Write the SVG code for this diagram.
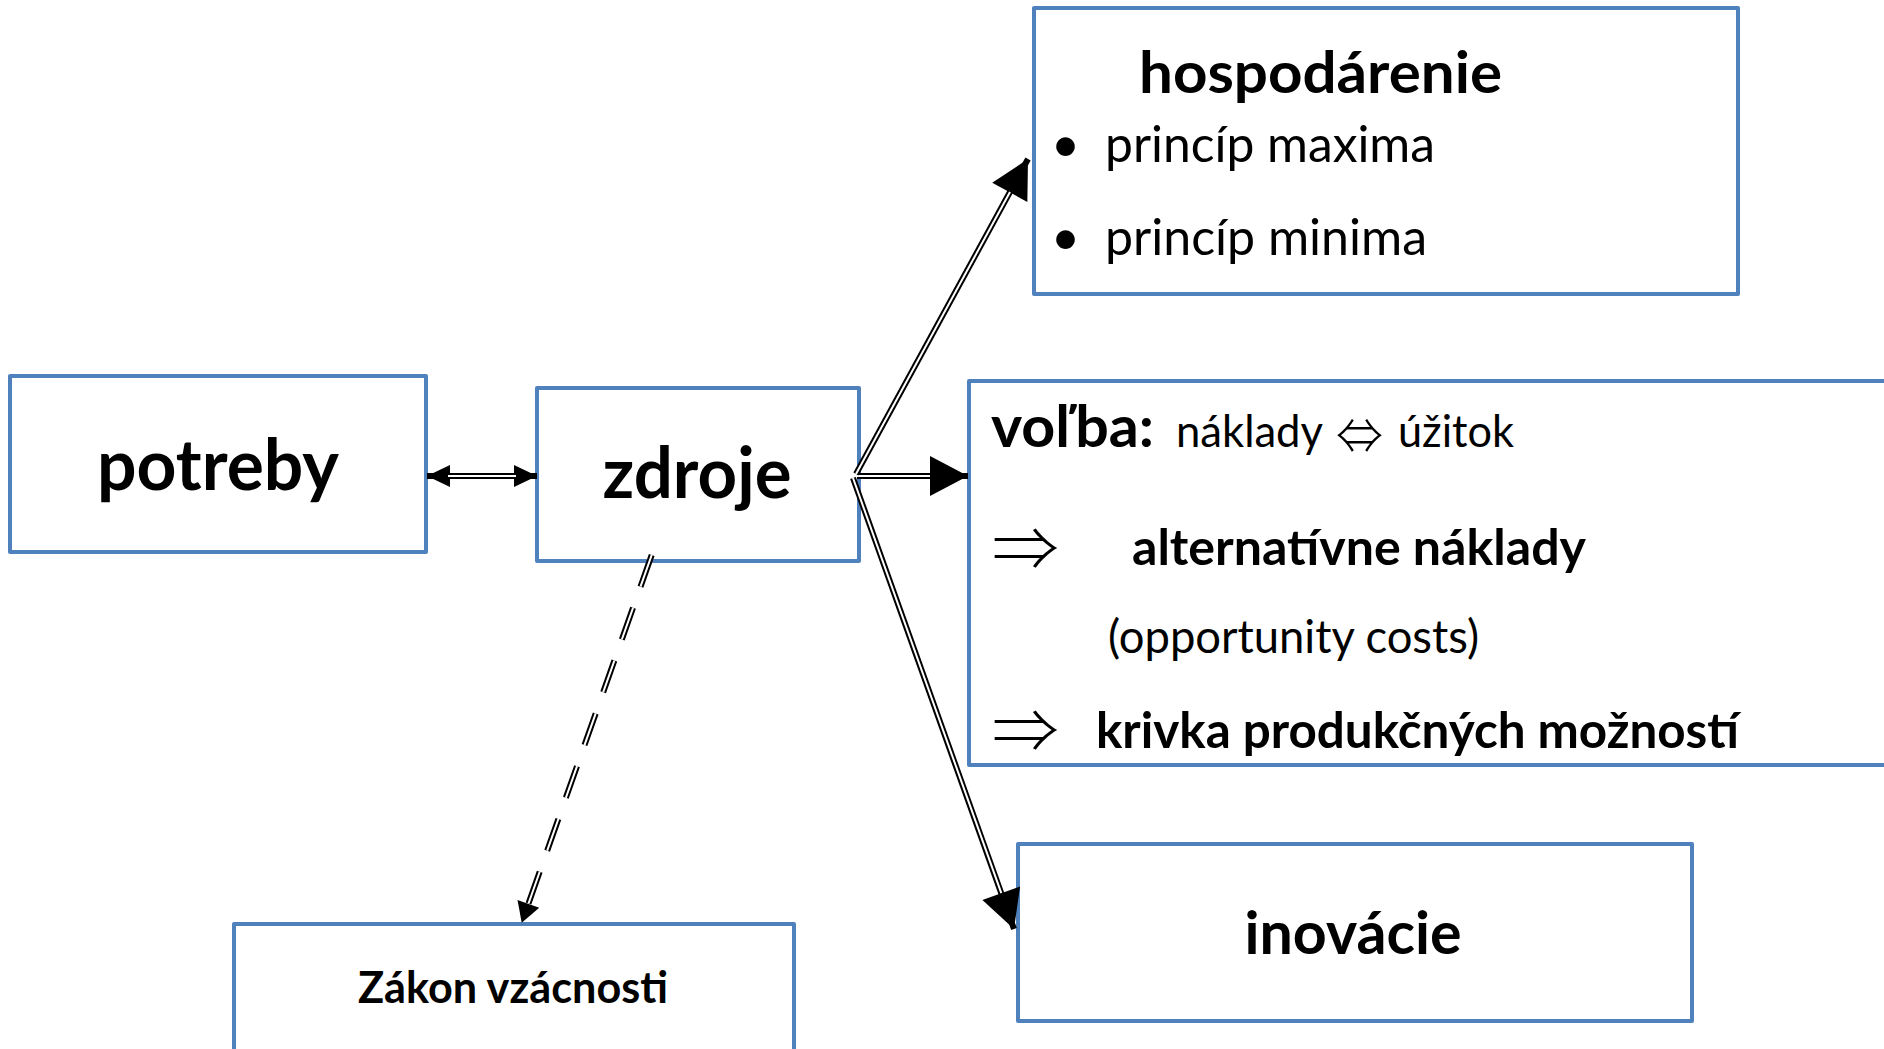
<svg xmlns="http://www.w3.org/2000/svg" width="1884" height="1049" viewBox="0 0 1884 1049">
<style>
.box{fill:#fff;stroke:#4F81BD;stroke-width:4;stroke-linejoin:round}
.t{font-family:Lato,"Open Sans","DejaVu Sans",sans-serif;fill:#000}
.b{font-weight:bold}
.sym{font-family:"Noto Sans CJK JP","DejaVu Sans",sans-serif;font-weight:300;fill:#000}
.out{fill:none;stroke:#000;stroke-width:6}
.in{fill:none;stroke:#fff;stroke-width:2}
.dash{stroke-dasharray:33.6 22.4}
</style>
<defs>
<marker id="headBig" markerUnits="userSpaceOnUse" markerWidth="40" markerHeight="40" refX="38" refY="20" orient="auto" overflow="visible"><path d="M0,0 L38,20 L0,40 z" fill="#000"/></marker>
<marker id="headSmall" markerUnits="userSpaceOnUse" markerWidth="23" markerHeight="22" refX="23" refY="11" orient="auto-start-reverse" overflow="visible"><path d="M0,0 L23,11 L0,22 z" fill="#000"/></marker>
<marker id="headDash" markerUnits="userSpaceOnUse" markerWidth="20" markerHeight="23" refX="20" refY="11.5" orient="auto" overflow="visible"><path d="M0,0 L20,11.5 L0,23 z" fill="#000"/></marker>
</defs>
<rect width="1884" height="1049" fill="#fff"/>

<g id="potreby">
<rect class="box" x="10" y="376" width="416" height="176"/>
<text class="t b" x="218" y="490" font-size="70" text-anchor="middle" textLength="242" lengthAdjust="spacingAndGlyphs">potreby</text>
</g>

<g id="zdroje">
<rect class="box" x="537" y="388" width="322" height="173"/>
<text class="t b" x="697" y="498" font-size="70" text-anchor="middle" textLength="189" lengthAdjust="spacingAndGlyphs">zdroje</text>
</g>

<g id="hospodarenie">
<rect class="box" x="1034" y="8" width="704" height="286"/>
<text class="t b" x="1139" y="93" font-size="57" textLength="363" lengthAdjust="spacingAndGlyphs">hospodárenie</text>
<text class="t" x="1051" y="162" font-size="50">•</text>
<text class="t" x="1105" y="162" font-size="50" textLength="330" lengthAdjust="spacingAndGlyphs">princíp maxima</text>
<text class="t" x="1051" y="255" font-size="50">•</text>
<text class="t" x="1105" y="255" font-size="50" textLength="322" lengthAdjust="spacingAndGlyphs">princíp minima</text>
</g>

<g id="volba">
<rect class="box" x="969" y="381" width="1000" height="384"/>
<text class="t b" x="991" y="447" font-size="57" textLength="163" lengthAdjust="spacingAndGlyphs">voľba:</text>
<text class="t" x="1176" y="447" font-size="44" textLength="147" lengthAdjust="spacingAndGlyphs">náklady</text>
<text class="sym" x="1336" y="454" font-size="50" textLength="47" lengthAdjust="spacingAndGlyphs">⇔</text>
<text class="t" x="1398" y="447" font-size="44" textLength="116" lengthAdjust="spacingAndGlyphs">úžitok</text>
<text class="sym" x="992" y="571" font-size="60" textLength="67" lengthAdjust="spacingAndGlyphs">⇒</text>
<text class="t b" x="1132" y="565" font-size="50" textLength="454" lengthAdjust="spacingAndGlyphs">alternatívne náklady</text>
<text class="t" x="1108" y="653" font-size="46" textLength="371" lengthAdjust="spacingAndGlyphs">(opportunity costs)</text>
<text class="sym" x="992" y="753" font-size="60" textLength="67" lengthAdjust="spacingAndGlyphs">⇒</text>
<text class="t b" x="1096" y="748" font-size="50" textLength="643" lengthAdjust="spacingAndGlyphs">krivka produkčných možností</text>
</g>

<g id="inovacie">
<rect class="box" x="1018" y="844" width="674" height="177"/>
<text class="t b" x="1353" y="954" font-size="60" text-anchor="middle" textLength="217" lengthAdjust="spacingAndGlyphs">inovácie</text>
</g>

<g id="zakon">
<rect class="box" x="234" y="924" width="560" height="200"/>
<text class="t b" x="513" y="1003" font-size="44" text-anchor="middle" textLength="310" lengthAdjust="spacingAndGlyphs">Zákon vzácnosti</text>
</g>

<g id="connectors">
<path class="out" d="M427,476 H537" marker-start="url(#headSmall)" marker-end="url(#headSmall)"/>
<path class="in" d="M448,476 H516"/>
<path class="out" d="M857,476 H968" marker-end="url(#headBig)"/>
<path class="in" d="M857,476 H930"/>
<path class="out" d="M856,474 L1028,159" marker-end="url(#headBig)"/>
<path class="in" d="M856,474 L1010,192"/>
<path class="out" d="M853,478 L1014,929" marker-end="url(#headBig)"/>
<path class="in" d="M853,478 L1001.3,893.2"/>
<path class="out dash" d="M651.7,555 L521.7,922.7" marker-end="url(#headDash)"/>
<path class="in dash" d="M651.7,555 L528.4,903.8"/>
</g>
</svg>
